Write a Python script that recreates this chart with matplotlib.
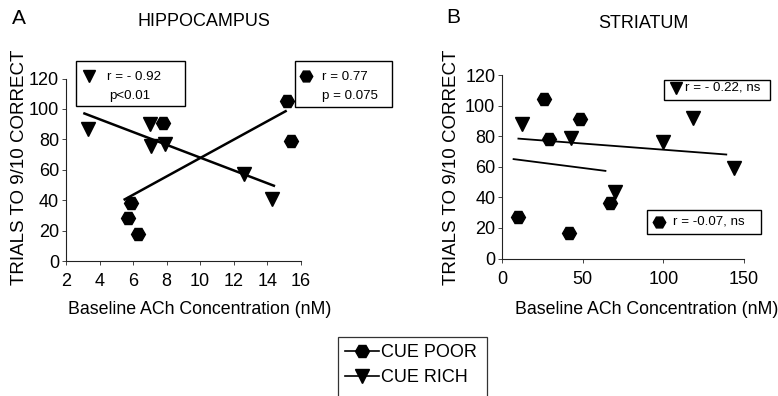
import matplotlib
matplotlib.use("Agg")
import matplotlib.pyplot as plt
from matplotlib.lines import Line2D
from matplotlib.patches import Rectangle

plt.rcParams['font.family'] = ['Liberation Sans', 'DejaVu Sans']

# hippocampus (panel A)
hippo_poor_x = [5.7, 5.9, 6.3, 7.8, 15.2, 15.4]
hippo_poor_y = [28, 38, 18, 91, 105, 79]
hippo_rich_x = [3.3, 7.0, 7.1, 7.9, 12.6, 14.3]
hippo_rich_y = [87, 90, 75.5, 77, 57.5, 41]
hippo_poor_fit_x = [5.5, 15.1]
hippo_poor_fit_y = [40.5, 98.5]
hippo_rich_fit_x = [3.1, 14.4]
hippo_rich_fit_y = [97, 49.5]

# striatum (panel B)
str_poor_x = [9.9, 25.9, 29.2, 41.4, 48.2, 66.8]
str_poor_y = [27, 104.5, 78, 17, 91, 36.5]
str_rich_x = [12, 42.4, 70.1, 99.5, 118.5, 143.7]
str_rich_y = [88, 78.5, 43.5, 76, 92, 59]
str_rich_fit_x = [10, 139]
str_rich_fit_y = [78.4, 68]
str_poor_fit_x = [7, 64]
str_poor_fit_y = [65, 57.3]

hippo_xticks = [2, 4, 6, 8, 10, 12, 14, 16]
str_xticks = [0, 50, 100, 150]
yticks = [0, 20, 40, 60, 80, 100, 120]

W, H = 778, 396
fig = plt.figure(figsize=(W / 100, H / 100), dpi=100)


def fp(x, y):
    return x / W, 1 - y / H


def style_axes(ax):
    for s in ['top', 'right']:
        ax.spines[s].set_visible(False)
    for s in ['left', 'bottom']:
        ax.spines[s].set_linewidth(0.8)
        ax.spines[s].set_color('#222222')
    ax.tick_params(direction='out', length=3, width=0.7, labelsize=13, color='#444444')
    ax.tick_params(axis='x', pad=6)
    ax.tick_params(axis='y', pad=2)
    ax.set_yticks(yticks)
    ax.set_ylim(0, 120)


axA = fig.add_axes([66 / W, 1 - 261 / H, 234.7 / W, 182.5 / H])
axA.plot(hippo_rich_fit_x, hippo_rich_fit_y, color='black', lw=1.8)
axA.plot(hippo_poor_fit_x, hippo_poor_fit_y, color='black', lw=1.8)
axA.plot(hippo_rich_x, hippo_rich_y, 'v', color='black', ms=9.5, clip_on=False)
axA.plot(hippo_poor_x, hippo_poor_y, 'H', color='black', ms=10, clip_on=False)
axA.set_xlim(2, 16)
axA.set_xticks(hippo_xticks)
style_axes(axA)

axB = fig.add_axes([502.3 / W, 1 - 258.5 / H, 241.7 / W, 183.5 / H])
axB.plot(str_rich_fit_x, str_rich_fit_y, color='black', lw=1.3)
axB.plot(str_poor_fit_x, str_poor_fit_y, color='black', lw=1.3)
axB.plot(str_poor_x, str_poor_y, 'H', color='black', ms=10, clip_on=False)
axB.plot(str_rich_x, str_rich_y, 'v', color='black', ms=9.5, clip_on=False)
axB.set_xlim(0, 150)
axB.set_xticks(str_xticks)
style_axes(axB)

# panel letters, titles and axis labels
fig.text(*fp(18.5, 18), 'A', fontsize=15, ha='center', va='center')
fig.text(*fp(203.5, 22), 'HIPPOCAMPUS', fontsize=13, ha='center', va='center')
fig.text(*fp(453.5, 17.5), 'B', fontsize=15, ha='center', va='center')
fig.text(*fp(643, 23), 'STRIATUM', fontsize=13, ha='center', va='center')
for xc in [20, 451]:
    fig.text(*fp(xc, 167), 'TRIALS TO 9/10 CORRECT', fontsize=13.5,
             rotation=90, ha='center', va='center')
for xc in [199.7, 647]:
    fig.text(*fp(xc, 310), 'Baseline ACh Concentration (nM)', fontsize=12.8,
             ha='center', va='center')


def stat_box(x0, y0, x1, y1, marker, mx, my, lines):
    fig.patches.append(Rectangle(fp(x0, y1), (x1 - x0) / W, (y1 - y0) / H,
                                 transform=fig.transFigure, fill=True,
                                 facecolor='white', edgecolor='black', lw=1.0))
    fig.add_artist(Line2D([fp(mx, my)[0]], [fp(mx, my)[1]], marker=marker,
                          color='black', ms=8.5 if marker == 'v' else 9,
                          transform=fig.transFigure))
    for tx, ty, s in lines:
        fig.text(*fp(tx, ty), s, fontsize=9.6, ha='left', va='center')


stat_box(76, 61, 185, 106, 'v', 88.5, 76,
         [(107, 76.5, 'r = - 0.92'), (109, 96.5, 'p<0.01')])
stat_box(295, 61, 392, 107, 'H', 305.5, 76,
         [(322, 76.5, 'r = 0.77'), (322, 96.5, 'p = 0.075')])
stat_box(664, 80, 770, 99.5, 'v', 675.5, 87.5,
         [(685, 88, 'r = - 0.22, ns')])
stat_box(647, 209.5, 761, 233.5, 'H', 659, 221.5,
         [(673, 222, 'r = -0.07, ns')])

# legend
handles = [Line2D([], [], color='black', lw=1.2, marker='H', ms=10),
           Line2D([], [], color='black', lw=1.2, marker='v', ms=9.5)]
leg = fig.legend(handles, ['CUE POOR', 'CUE RICH'], loc='upper left',
                 bbox_to_anchor=fp(338, 337), frameon=False, fontsize=13,
                 handlelength=1.85, handletextpad=0.15, borderpad=0.4,
                 labelspacing=0.45, borderaxespad=0)
fig.patches.append(Rectangle(fp(338, 397), (487 - 338) / W, (397 - 337) / H,
                             transform=fig.transFigure, fill=False,
                             edgecolor='#333333', lw=0.9, clip_on=False))

fig.savefig('out.png', dpi=100)
